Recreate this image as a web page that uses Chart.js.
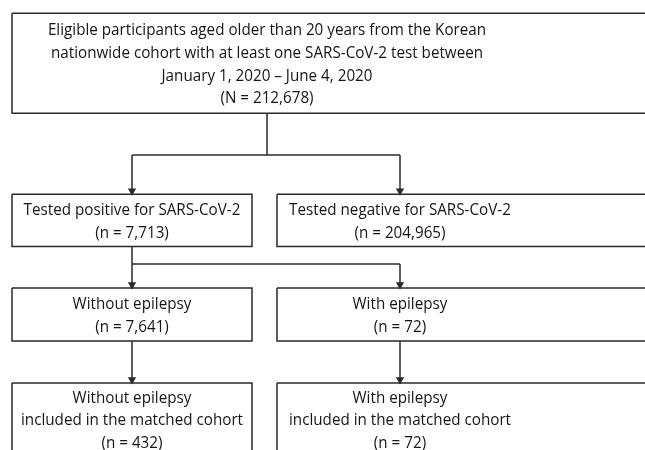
<!DOCTYPE html>
<html><head><meta charset="utf-8">
<script src="https://cdn.jsdelivr.net/npm/chart.js@4"></script>
<style>html,body{margin:0;padding:0;background:#fff}#wrap{width:645px;height:450px}</style>
</head><body><div id="wrap"><canvas id="c" width="645" height="450"></canvas></div>
<script>
// Box labels (flow order)
const boxLabels = [
  ["Eligible participants aged older than 20 years from the Korean","nationwide cohort with at least one SARS-CoV-2 test between","January 1, 2020 \u2013 June 4, 2020","(N = 212,678)"],
  ["Tested positive for SARS-CoV-2","(n = 7,713)"],
  ["Tested negative for SARS-CoV-2","(n = 204,965)"],
  ["Without epilepsy","(n = 7,641)"],
  ["With epilepsy","(n = 72)"],
  ["Without epilepsy","included in the matched cohort","(n = 432)"],
  ["With epilepsy","included in the matched cohort","(n = 72)"]
];
// Links: [from, [to...]]
const links = [[0,[1,2]],[1,[3,4]],[3,[5]],[4,[6]]];

// Layout in chart units (x 0-645, y 0-450 top-down)
const boxLeft   = [12, 12, 277, 12, 277, 12, 277];
const boxRight  = [662, 252, 662, 252, 662, 252, 662];
const boxTop    = [13.3, 194.3, 194.3, 288, 288, 383, 383];
const boxBottom = [113.3, 246.5, 246.5, 341, 341, 456, 456];
const textX     = [267, 132, 400, 132, 400, 132, 400];
const branchY   = [155, 264, 0, 0];
const LINE_H = 22.8, ARROW_R = 4.8, BASE_OFF = 5.8;

const ink = '#2a2a2a';
const datasets = [];
boxLabels.forEach((_, i) => {
  const l = boxLeft[i], r = boxRight[i], t = boxTop[i], b = boxBottom[i];
  datasets.push({type:'line', data:[{x:l,y:t},{x:r,y:t},{x:r,y:b},{x:l,y:b},{x:l,y:t}],
    borderColor:ink, borderWidth:1.5, pointRadius:0, fill:false, tension:0, order:2, clip:false});
});
links.forEach(([from, tos], k) => {
  const sx = textX[from], sy = boxBottom[from];
  if (tos.length > 1) {
    const by = branchY[k];
    datasets.push({type:'line', data:[{x:sx,y:sy},{x:sx,y:by}], borderColor:ink, borderWidth:1.5, pointRadius:0, order:1, clip:false});
    const xs = tos.map(t => textX[t]);
    datasets.push({type:'line', data:[{x:Math.min(...xs),y:by},{x:Math.max(...xs),y:by}], borderColor:ink, borderWidth:1.5, pointRadius:0, order:1, clip:false});
    tos.forEach(t => {
      datasets.push({type:'line', data:[{x:textX[t],y:by},{x:textX[t],y:boxTop[t]-ARROW_R}], borderColor:ink, borderWidth:1.5, pointRadius:0, order:1, clip:false});
    });
  } else {
    const t = tos[0];
    datasets.push({type:'line', data:[{x:sx,y:sy},{x:textX[t],y:boxTop[t]-ARROW_R}], borderColor:ink, borderWidth:1.5, pointRadius:0, order:1, clip:false});
  }
  tos.forEach(t => {
    datasets.push({type:'scatter', data:[{x:textX[t], y:boxTop[t]-ARROW_R*0.5-1}], pointStyle:'triangle', rotation:180,
      pointRadius:ARROW_R, backgroundColor:ink, borderColor:ink, borderWidth:0, order:0, clip:false});
  });
});

const textPlugin = {
  id:'boxText',
  afterDatasetsDraw(chart){
    const {ctx, scales:{x, y}} = chart;
    ctx.save();
    ctx.fillStyle = '#151515';
    ctx.font = '17px "Open Sans"';
    ctx.textAlign = 'center';
    ctx.textBaseline = 'alphabetic';
    const sx = 0.895;
    boxLabels.forEach((lines, i) => {
      const cy = (boxTop[i] + boxBottom[i]) / 2;
      const n = lines.length;
      lines.forEach((s, j) => {
        const v = cy + (j - (n - 1) / 2) * LINE_H + BASE_OFF;
        const px = x.getPixelForValue(textX[i]), py = y.getPixelForValue(v);
        ctx.save();
        ctx.translate(px, py);
        ctx.scale(sx, 1);
        ctx.fillText(s, 0, 0);
        ctx.restore();
      });
    });
    ctx.restore();
  }
};

new Chart(document.getElementById('c'), {
  type:'scatter',
  data:{datasets},
  options:{
    responsive:false, animation:false, devicePixelRatio:1,
    layout:{padding:0, autoPadding:false},
    plugins:{legend:{display:false}, tooltip:{enabled:false}},
    scales:{
      x:{type:'linear', min:0, max:645, display:false},
      y:{type:'linear', min:0, max:450, reverse:true, display:false}
    }
  },
  plugins:[textPlugin]
});
</script></body></html>
